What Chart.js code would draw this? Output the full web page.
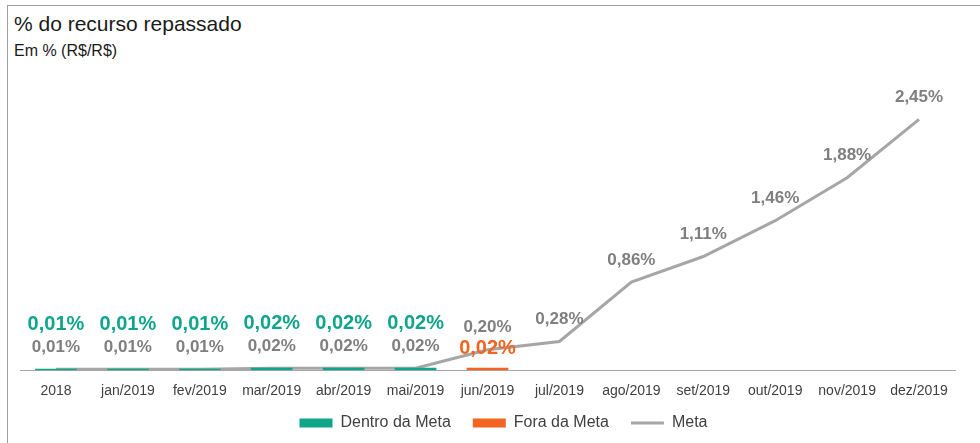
<!DOCTYPE html>
<html lang="pt-BR">
<head>
<meta charset="utf-8">
<title>% do recurso repassado</title>
<script src="https://cdn.jsdelivr.net/npm/chart.js@4"></script>
<style>
  html, body { margin: 0; padding: 0; background: #fff; }
  .card {
    position: relative;
    width: 980px;
    height: 443px;
    font-family: "Liberation Sans", Arial, sans-serif;
    overflow: hidden;
  }
  .frame {
    position: absolute;
    left: 7px;
    top: 5px;
    right: -2px;
    bottom: -2px;
    border-left: 1px solid #a0a0a0;
    border-top: 1px solid #a0a0a0;
  }
  .title {
    position: absolute;
    left: 14px;
    top: 12px;
    font-size: 21px;
    color: #1a1a1a;
  }
  .subtitle {
    position: absolute;
    left: 14px;
    top: 42px;
    font-size: 16px;
    color: #1a1a1a;
  }
  canvas { position: absolute; left: 0; top: 0; }
</style>
</head>
<body>
<div class="card">
  <div class="frame"></div>
  <div class="title">% do recurso repassado</div>
  <div class="subtitle">Em % (R$/R$)</div>
  <canvas id="chart" width="980" height="443"></canvas>
</div>
<script>
const categories = [
  "2018", "jan/2019", "fev/2019", "mar/2019", "abr/2019", "mai/2019",
  "jun/2019", "jul/2019", "ago/2019", "set/2019", "out/2019", "nov/2019", "dez/2019",
];

// realizado, separado por situação em relação à meta
const dentroDaMeta = [0.01, 0.01, 0.01, 0.02, 0.02, 0.02, null, null, null, null, null, null, null];
const foraDaMeta = [null, null, null, null, null, null, 0.02, null, null, null, null, null, null];

// meta acumulada
const meta = [0.01, 0.01, 0.01, 0.02, 0.02, 0.02, 0.20, 0.28, 0.86, 1.11, 1.46, 1.88, 2.45];

const TEAL = "#0ea58a";
const ORANGE = "#f2641f";
const GREY_LINE = "#a6a6a6";
const GREY_TEXT = "#7f7f7f";

const fmt = (v) => v.toFixed(2).replace(".", ",") + "%";

// rótulos de valor desenhados acima de cada marca
const valueLabels = {
  id: "valueLabels",
  afterDatasetsDraw(chart) {
    const ctx = chart.ctx;
    chart.data.datasets.forEach((ds, i) => {
      const st = ds.valueLabel;
      if (!st) return;
      chart.getDatasetMeta(i).data.forEach((el, j) => {
        const v = ds.data[j];
        if (v == null) return;
        ctx.save();
        ctx.font = st.font;
        ctx.fillStyle = st.color;
        ctx.textAlign = "center";
        ctx.textBaseline = "middle";
        ctx.fillText(fmt(v), el.x, el.y - st.lift);
        ctx.restore();
      });
    });
  },
};

// legenda mais próxima do eixo e um pouco à direita
const legendShift = {
  id: "legendShift",
  afterLayout(chart) {
    const lg = chart.legend;
    if (!lg) return;
    lg.left += 16;
    lg.right += 16;
    lg.top -= 12;
    lg.bottom -= 12;
  },
};

new Chart(document.getElementById("chart").getContext("2d"), {
  type: "bar",
  data: {
    labels: categories,
    datasets: [
      {
        label: "Dentro da Meta",
        data: dentroDaMeta,
        backgroundColor: TEAL,
        barThickness: 41,
        order: 2,
        valueLabel: { font: "bold 20px 'Liberation Sans', Arial", color: TEAL, lift: 45 },
      },
      {
        label: "Fora da Meta",
        data: foraDaMeta,
        backgroundColor: ORANGE,
        barThickness: 41,
        order: 1,
        valueLabel: { font: "bold 20px 'Liberation Sans', Arial", color: ORANGE, lift: 20 },
      },
      {
        type: "line",
        label: "Meta",
        data: meta,
        borderColor: GREY_LINE,
        backgroundColor: GREY_LINE,
        borderWidth: 3,
        pointRadius: 0,
        tension: 0,
        order: 3,
        valueLabel: { font: "bold 17px 'Liberation Sans', Arial", color: GREY_TEXT, lift: 22 },
      },
    ],
  },
  options: {
    responsive: false,
    animation: false,
    layout: {
      padding: { top: 63, left: 20, right: 25, bottom: -10 },
    },
    datasets: {
      bar: { grouped: false },
    },
    scales: {
      x: {
        grid: { display: false },
        border: { display: true, color: "#a6a6a6", width: 1 },
        ticks: {
          color: "#404040",
          font: { family: "'Liberation Sans', Arial", size: 14 },
          padding: 5,
          maxRotation: 0,
          autoSkip: false,
        },
      },
      y: {
        display: false,
        min: 0,
        max: 3,
      },
    },
    plugins: {
      legend: {
        position: "bottom",
        labels: {
          color: "#404040",
          font: { family: "'Liberation Sans', Arial", size: 16 },
          usePointStyle: true,
          pointStyleWidth: 33,
          boxHeight: 9,
          padding: 22,
          generateLabels: (chart) =>
            [0, 1, 2].map((i) => {
              const ds = chart.data.datasets[i];
              const isLine = ds.type === "line";
              return {
                text: ds.label,
                fillStyle: isLine ? ds.borderColor : ds.backgroundColor,
                strokeStyle: isLine ? ds.borderColor : ds.backgroundColor,
                lineWidth: isLine ? 3 : 0,
                pointStyle: isLine ? "line" : "rect",
                fontColor: "#404040",
                datasetIndex: i,
              };
            }),
        },
      },
      tooltip: { enabled: false },
    },
  },
  plugins: [valueLabels, legendShift],
});
</script>
</body>
</html>
